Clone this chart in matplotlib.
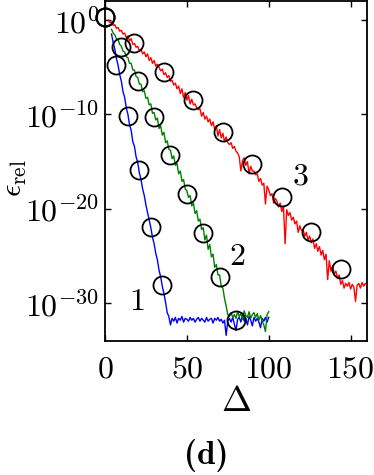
import numpy as np
import matplotlib
matplotlib.use("Agg")
import matplotlib.pyplot as plt
from matplotlib.ticker import NullLocator

plt.rcParams['font.family'] = ['cmr10', 'DejaVu Serif']
plt.rcParams['mathtext.fontset'] = 'cm'
plt.rcParams['axes.unicode_minus'] = False
plt.rcParams['axes.formatter.use_mathtext'] = True

# log10 of eps_rel
blue_x = list(range(4, 101))
blue_log = [-1.5, -2.4, -3.1, -4.1, -4.8, -5.8, -6.5, -7.6, -8.2, -9.3,
            -10.0, -11.1, -11.7, -12.9, -13.4, -14.5, -15.1, -16.2, -16.9, -17.9,
            -18.6, -19.6, -20.4, -21.2, -22.0, -23.0, -23.7, -24.7, -25.4, -26.5,
            -27.2, -28.2, -29.0, -29.9, -31.0, -31.4,
            -32.3, -31.6, -31.9, -31.5, -32.1, -31.6, -31.8, -31.4, -32.0, -31.6,
            -31.7, -31.9, -31.5, -31.8, -31.6, -32.0, -31.7, -31.5, -31.9, -31.6,
            -31.8, -32.0, -31.5, -31.9, -31.7, -31.6, -32.1, -31.6, -31.8, -31.5,
            -31.9, -31.7, -32.1, -31.8, -33.4, -31.9, -31.6, -32.0, -31.5, -32.2,
            -32.9, -31.7, -31.5, -32.0, -31.3, -31.9, -31.6, -32.3, -31.4, -31.8,
            -32.4, -31.5, -31.9, -31.6, -32.0, -32.6, -31.6, -31.9, -31.5, -32.0,
            -31.5]

green_x = list(range(4, 101))
green_log = [-1.0, -1.4, -1.6, -2.0, -2.1, -2.6, -2.8, -3.3, -3.4, -3.9,
             -4.0, -4.6, -4.6, -5.3, -5.3, -6.0, -6.1, -6.8, -6.8, -7.6,
             -7.5, -8.3, -8.2, -9.0, -8.9, -9.9, -9.8, -10.6, -10.4, -11.5,
             -11.2, -12.2, -11.9, -13.0, -12.8, -13.7, -13.8, -14.7, -14.4, -15.4,
             -15.2, -16.3, -16.0, -17.1, -16.9, -17.9, -18.1, -18.8, -18.6, -19.7,
             -19.4, -20.5, -20.2, -21.3, -21.1, -22.2, -22.0, -23.3, -22.8, -24.3,
             -23.8, -25.1, -24.8, -26.2, -25.9, -27.0, -27.0, -28.2, -28.4, -29.5,
             -30.3, -31.2, -31.4, -31.0, -31.5, -31.2, -31.6, -30.9, -31.4, -31.1,
             -31.7, -30.8, -31.3, -31.5, -30.9, -31.6, -31.2, -31.0, -31.5, -31.1,
             -31.8, -31.3, -31.9, -32.3, -33.0, -31.2, -30.9]

red_x = list(range(2, 161))
red_log = [0.0, -0.3, -0.2, -0.6, -0.5, -0.9, -0.8, -1.2, -1.1, -1.5,
           -1.4, -1.9, -1.7, -2.2, -2.0, -2.6, -2.5, -2.9, -2.8,
           -3.3, -3.1, -3.6, -3.4, -3.9, -3.6, -4.3, -4.0, -4.6, -4.3,
           -4.9, -4.7, -5.0, -5.4, -5.2, -5.8, -5.6, -6.1, -5.9, -6.5,
           -6.4, -6.9, -6.7, -7.3, -7.0, -7.8, -7.3, -8.2, -7.7, -8.5,
           -8.0, -8.9, -8.4, -9.0, -8.9, -9.3, -9.5, -9.4, -10.2, -9.8,
           -10.5, -10.2, -10.8, -10.5, -11.2, -10.8, -11.6, -11.2, -12.3, -11.6,
           -12.5, -12.0, -12.9, -12.4, -13.0, -13.2, -13.0, -13.6, -13.4, -13.9,
           -14.1, -14.5, -16.0, -14.9, -14.6, -15.4, -15.0, -16.3, -15.5, -16.0,
           -16.0, -16.4, -16.3, -17.1, -16.8, -17.5, -17.3, -19.5, -17.6, -18.0,
           -18.6, -18.4, -19.4, -18.9, -19.2, -19.8, -19.4, -20.3, -19.7, -23.7,
           -20.1, -20.7, -20.4, -21.2, -20.9, -21.6, -21.3, -22.5, -21.8, -22.3,
           -22.2, -22.9, -22.5, -23.3, -22.9, -23.6, -23.2, -24.2, -23.7, -24.5,
           -24.0, -24.9, -24.4, -25.4, -24.8, -27.5, -25.5, -26.6, -26.0, -26.9,
           -26.6, -27.4, -27.0, -28.0, -27.6, -28.4, -27.9, -28.2, -27.8, -28.5,
           -28.0, -28.3, -29.8, -28.1, -27.9, -28.4, -27.8, -28.2, -27.9, -28.0]

# open circles
circ1_x = [0, 7, 14, 21, 28, 35]
circ1_log = [0.3, -4.8, -10.2, -15.9, -21.9, -28.1]
circ2_x = [0, 10, 20, 30, 40, 50, 60, 70, 80]
circ2_log = [0.3, -2.9, -6.5, -10.3, -14.3, -18.4, -22.6, -27.2, -31.8]
circ3_x = [0, 18, 36, 54, 72, 90, 108, 126, 144]
circ3_log = [0.3, -2.5, -5.5, -8.5, -11.9, -15.3, -18.8, -22.5, -26.4]

fig = plt.figure(figsize=(3.74, 4.75), dpi=100)
ax = fig.add_axes([0.2807, 0.2821, 0.7005, 0.7158])

ax.semilogy(blue_x, 10.0 ** np.array(blue_log), color='#0000ff', lw=1.0)
ax.semilogy(green_x, 10.0 ** np.array(green_log), color='#008000', lw=1.0)
ax.semilogy(red_x, 10.0 ** np.array(red_log), color='#ff0000', lw=1.0)
for cx, cy in [(circ1_x, circ1_log), (circ2_x, circ2_log), (circ3_x, circ3_log)]:
    ax.semilogy(cx, 10.0 ** np.array(cy), 'o', mfc='none', mec='k', ms=13, mew=1.3,
                clip_on=False)

ax.text(19.4, 10 ** -29.9, '1', fontsize=23, ha='center', va='center')
ax.text(80.6, 10 ** -25.1, '2', fontsize=23, ha='center', va='center')
ax.text(119.3, 10 ** -16.6, '3', fontsize=23, ha='center', va='center')

ax.set_xlim(0, 160)
ax.set_ylim(1e-34, 1e2)
ax.set_xticks([0, 50, 100, 150])
ax.set_yticks([1e0, 1e-10, 1e-20, 1e-30])
ax.yaxis.set_minor_locator(NullLocator())

ax.tick_params(axis='both', direction='in', length=4, width=1, top=True, right=True,
               labelsize=23)
ax.tick_params(axis='x', pad=11)
ax.tick_params(axis='y', pad=4)
for s in ax.spines.values():
    s.set_linewidth(1.3)

ax.set_xlabel(r'$\Delta$', fontsize=26, labelpad=2)
ax.set_ylabel(r'$\epsilon_{\rm rel}$', fontsize=22)
ax.yaxis.set_label_coords(-0.29, 0.48)

fig.text(0.551, 0.042, '(d)', fontsize=24, family='cmb10', ha='center', va='center')

fig.savefig('out.png', dpi=100)
